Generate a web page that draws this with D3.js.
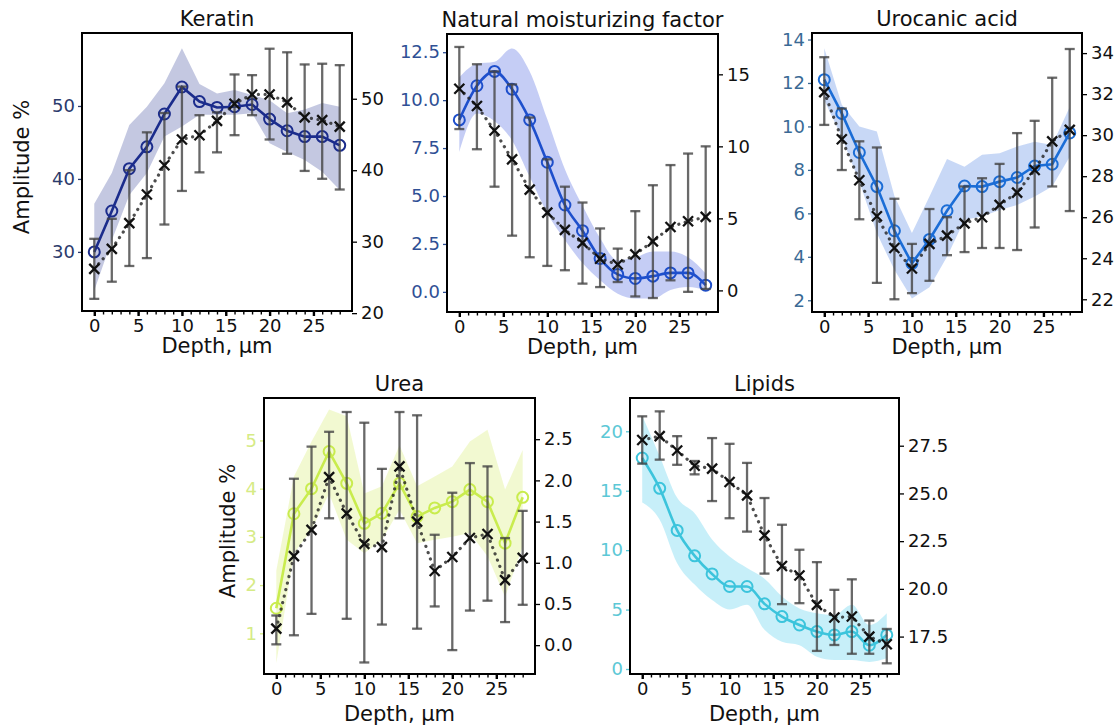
<!DOCTYPE html>
<html lang="en">
<head>
<meta charset="UTF-8">
<title>Depth profiles</title>
<script src="https://d3js.org/d3.v7.min.js"></script>
<style>
  body { margin: 0; background: #fff; }
  svg { font-family: "DejaVu Sans", sans-serif; }
  .title { font-size: 21px; text-anchor: middle; fill: #111; }
  .axis-label { font-size: 21px; text-anchor: middle; fill: #111; }
  .tick text { font-size: 18px; font-family: "DejaVu Sans", sans-serif; }
  .domain { display: none; }
  .frame { fill: none; stroke: #000; stroke-width: 2; }
  .errbar { stroke: #444; stroke-opacity: 0.8; stroke-width: 2.3; }
  .ref-line { fill: none; stroke: #222; stroke-opacity: 0.8; stroke-width: 3.2; stroke-linecap: round; stroke-dasharray: 0.1 6.6; }
  .xmark { stroke: #111; stroke-width: 2.3; }
</style>
</head>
<body>
<div id="chart"></div>
<script>
const depth = [0, 2, 4, 6, 8, 10, 12, 14, 16, 18, 20, 22, 24, 26, 28];

// Keratin
const keratinMean = [30.0, 35.6, 41.4, 44.4, 48.9, 52.6, 50.6, 49.8, 49.9, 50.2, 48.2, 46.6, 45.8, 45.8, 44.6];
const keratinHigh = [36.6, 40.8, 47.4, 49.9, 53.1, 57.9, 53.0, 51.7, 52.2, 51.5, 50.8, 49.0, 49.5, 50.4, 49.9];
const keratinLow  = [24.7, 31.6, 37.8, 40.8, 45.8, 47.2, 48.8, 48.8, 48.8, 49.0, 44.9, 43.7, 42.6, 41.0, 38.5];
const keratinRef     = [26.2, 29.0, 32.6, 36.6, 40.7, 44.3, 44.9, 46.9, 49.3, 50.6, 50.6, 49.5, 47.4, 47.0, 46.1];
const keratinRefHigh = [30.4, 33.2, 40.0, 45.3, 48.0, 51.7, 47.7, 48.1, 53.4, 53.3, 57.0, 56.5, 54.8, 54.9, 54.7];
const keratinRefLow  = [22.0, 24.4, 26.6, 27.7, 32.4, 37.1, 39.7, 42.5, 44.9, 47.7, 44.3, 42.3, 39.9, 38.8, 37.3];

// Natural moisturizing factor
const nmfMean = [8.97, 10.75, 11.5, 10.57, 8.97, 6.76, 4.53, 3.19, 1.74, 0.91, 0.70, 0.82, 0.99, 0.99, 0.35];
const nmfHigh = [11.2, 11.9, 12.0, 12.7, 11.5, 9.0, 6.4, 4.5, 2.8, 1.65, 1.8, 2.1, 2.1, 1.8, 0.96];
const nmfLow  = [7.3, 9.3, 8.9, 7.9, 6.0, 4.1, 2.7, 1.5, 0.6, -0.1, -0.35, -0.35, 0.1, 0.26, 0.09];
const nmfRef     = [14.0, 12.8, 11.1, 9.1, 7.0, 5.4, 4.2, 3.3, 2.2, 1.8, 2.5, 3.4, 4.4, 4.8, 5.1];
const nmfRefHigh = [16.9, 15.7, 15.2, 14.3, 12.0, 9.1, 7.2, 6.1, 4.3, 2.9, 5.5, 7.3, 8.7, 9.5, 10.0];
const nmfRefLow  = [11.2, 9.8, 7.2, 3.8, 2.3, 1.7, 1.4, 0.47, 0.23, 0.58, -0.42, -0.53, 0.7, -0.1, 0.1];

// Urocanic acid
const urocanicMean = [12.15, 10.6, 8.8, 7.23, 5.2, 3.7, 4.8, 6.12, 7.26, 7.23, 7.46, 7.65, 8.18, 8.26, 9.7];
const urocanicHigh = [13.6, 11.0, 10.0, 9.77, 6.8, 5.1, 6.77, 8.5, 8.15, 8.7, 8.77, 9.08, 9.3, 9.15, 10.9];
const urocanicLow  = [11.2, 9.5, 7.46, 5.08, 3.4, 2.08, 2.6, 4.0, 5.7, 5.85, 6.15, 6.38, 6.77, 7.23, 8.6];
const urocanicRef     = [32.1, 29.8, 27.8, 26.05, 24.5, 23.5, 24.7, 25.1, 25.7, 26.0, 26.6, 27.2, 28.3, 29.7, 30.26];
const urocanicRefHigh = [33.8, 31.3, 29.7, 29.4, 26.9, 24.7, 26.4, 26.0, 27.5, 27.9, 28.6, 30.1, 30.7, 32.8, 34.2];
const urocanicRefLow  = [30.5, 28.3, 25.9, 22.8, 22.0, 22.3, 22.9, 24.15, 24.3, 24.5, 24.5, 24.4, 25.5, 27.5, 26.3];

// Urea
const ureaMean = [1.52, 3.48, 4.0, 4.77, 4.11, 3.28, 3.49, 4.11, 3.42, 3.6, 3.73, 3.98, 3.73, 2.87, 3.82];
const ureaHigh = [2.3, 4.25, 4.98, 5.64, 5.5, 3.9, 4.05, 4.9, 4.05, 4.25, 4.46, 4.98, 5.22, 3.98, 4.8];
const ureaLow  = [0.38, 2.66, 3.15, 3.9, 2.94, 2.66, 2.94, 3.56, 2.87, 2.94, 3.0, 3.08, 2.6, 1.76, 2.8];
const ureaRef     = [0.2, 1.08, 1.4, 2.04, 1.6, 1.23, 1.19, 2.17, 1.5, 0.9, 1.07, 1.3, 1.35, 0.79, 1.06];
const ureaRefHigh = [0.36, 2.02, 2.41, 2.59, 2.83, 2.7, 2.14, 2.83, 2.79, 1.34, 1.85, 2.21, 2.17, 1.3, 1.63];
const ureaRefLow  = [0.01, 0.12, 0.38, 1.54, 0.32, -0.21, 0.25, 1.54, 0.2, 0.47, -0.06, 0.42, 0.54, 0.28, 0.49];

// Lipids
const lipidsMean = [17.75, 15.2, 11.66, 9.52, 8.0, 6.94, 6.94, 5.48, 4.41, 3.7, 3.15, 2.87, 3.15, 2.0, 2.87];
const lipidsHigh = [21.3, 17.9, 14.4, 13.1, 10.9, 9.47, 8.5, 7.6, 6.1, 5.1, 4.7, 4.55, 5.4, 3.7, 4.7];
const lipidsLow  = [14.0, 12.56, 8.9, 7.1, 5.8, 5.0, 5.4, 3.3, 2.3, 2.0, 1.04, 0.76, 0.76, 0.6, 0.9];
const lipidsRef     = [27.8, 28.0, 27.25, 26.45, 26.3, 25.6, 24.9, 22.8, 21.2, 20.7, 19.16, 18.5, 18.55, 17.5, 17.1];
const lipidsRefHigh = [29.04, 29.3, 28.0, 26.7, 27.9, 27.6, 26.6, 24.76, 23.36, 22.05, 21.4, 19.95, 20.5, 18.34, 17.9];
const lipidsRefLow  = [26.56, 26.77, 26.5, 26.0, 24.6, 23.7, 23.0, 20.8, 19.2, 19.25, 16.75, 17.06, 16.6, 16.6, 16.1];

// tick labels
const depthTicks = [0, 5, 10, 15, 20, 25];
const keratinLeftTicks = [30, 40, 50];
const keratinRightTicks = [20, 30, 40, 50];
const nmfLeftTicks = [0, 2.5, 5, 7.5, 10, 12.5];
const nmfRightTicks = [0, 5, 10, 15];
const urocanicLeftTicks = [2, 4, 6, 8, 10, 12, 14];
const urocanicRightTicks = [22, 24, 26, 28, 30, 32, 34];
const ureaLeftTicks = [1, 2, 3, 4, 5];
const ureaRightTicks = [0, 0.5, 1, 1.5, 2, 2.5];
const lipidsLeftTicks = [0, 5, 10, 15, 20];
const lipidsRightTicks = [17.5, 20, 22.5, 25, 27.5];

const panels = [
  { title: "Keratin", mean: keratinMean, low: keratinLow, high: keratinHigh,
    ref: keratinRef, refLow: keratinRefLow, refHigh: keratinRefHigh,
    left: [21.9, 60], right: [20.3, 59.2], leftTicks: keratinLeftTicks, rightTicks: keratinRightTicks,
    leftFmt: "d", rightFmt: "d",
    line: "#1b2c8c", band: "#3b4a9c", bandOpacity: 0.3, tickColor: "#2b3a6c",
    curve: d3.curveLinear, box: [82, 33, 270, 278], xlabelDy: 42, ylabelDx: 60 },
  { title: "Natural moisturizing factor", mean: nmfMean, low: nmfLow, high: nmfHigh,
    ref: nmfRef, refLow: nmfRefLow, refHigh: nmfRefHigh,
    left: [-1.05, 13.45], right: [-1.5, 17.8], leftTicks: nmfLeftTicks, rightTicks: nmfRightTicks,
    leftFmt: ".1f", rightFmt: "d",
    line: "#1e4fcc", band: "#4a64e0", bandOpacity: 0.32, tickColor: "#2f5095",
    curve: d3.curveMonotoneX, box: [447, 34, 271, 278], xlabelDy: 42, ylabelDx: null },
  { title: "Urocanic acid", mean: urocanicMean, low: urocanicLow, high: urocanicHigh,
    ref: urocanicRef, refLow: urocanicRefLow, refHigh: urocanicRefHigh,
    left: [1.46, 14.3], right: [21.38, 34.98], leftTicks: urocanicLeftTicks, rightTicks: urocanicRightTicks,
    leftFmt: "d", rightFmt: "d",
    line: "#1b6dd6", band: "#4a7fe0", bandOpacity: 0.3, tickColor: "#3a6a95",
    curve: d3.curveLinear, box: [812, 33, 270, 279], xlabelDy: 42, ylabelDx: null },
  { title: "Urea", mean: ureaMean, low: ureaLow, high: ureaHigh,
    ref: ureaRef, refLow: ureaRefLow, refHigh: ureaRefHigh,
    left: [0.156, 5.88], right: [-0.35, 3.0], leftTicks: ureaLeftTicks, rightTicks: ureaRightTicks,
    leftFmt: "d", rightFmt: ".1f",
    line: "#c9ec4e", band: "#d9ee7a", bandOpacity: 0.35, tickColor: "#d6eb86",
    curve: d3.curveLinear, box: [264, 398, 271, 276], xlabelDy: 47, ylabelDx: 36 },
  { title: "Lipids", mean: lipidsMean, low: lipidsLow, high: lipidsHigh,
    ref: lipidsRef, refLow: lipidsRefLow, refHigh: lipidsRefHigh,
    left: [-0.42, 22.8], right: [15.54, 30.0], leftTicks: lipidsLeftTicks, rightTicks: lipidsRightTicks,
    leftFmt: "d", rightFmt: ".1f",
    line: "#3cc4dc", band: "#5fd0ee", bandOpacity: 0.35, tickColor: "#5cc8d6",
    curve: d3.curveMonotoneX, box: [630, 398, 269, 276], xlabelDy: 47, ylabelDx: null }
];

const width = 1117, height = 728;

const svg = d3.select("#chart").append("svg")
  .attr("width", width)
  .attr("height", height);

panels.forEach((p, i) => {
  const [bx, by, bw, bh] = p.box;
  const x = d3.scaleLinear().domain([-1.4, 29.4]).range([bx, bx + bw]);
  const yL = d3.scaleLinear().domain(p.left).range([by + bh, by]);
  const yR = d3.scaleLinear().domain(p.right).range([by + bh, by]);

  const g = svg.append("g");

  g.append("clipPath").attr("id", "clip" + i)
    .append("rect").attr("x", bx).attr("y", by).attr("width", bw).attr("height", bh);

  const plot = g.append("g").attr("clip-path", `url(#clip${i})`);

  // shaded band + coloured mean line (left axis)
  const idx = depth.map((d, k) => k);
  plot.append("path")
    .datum(idx)
    .attr("fill", p.band)
    .attr("fill-opacity", p.bandOpacity)
    .attr("d", d3.area().curve(p.curve)
      .x(k => x(depth[k]))
      .y0(k => yL(p.low[k]))
      .y1(k => yL(p.high[k])));

  plot.append("path")
    .datum(idx)
    .attr("fill", "none")
    .attr("stroke", p.line)
    .attr("stroke-width", 2.6)
    .attr("d", d3.line().curve(p.curve)
      .x(k => x(depth[k]))
      .y(k => yL(p.mean[k])));

  plot.selectAll(".mean-dot")
    .data(idx)
    .join("circle")
    .attr("cx", k => x(depth[k]))
    .attr("cy", k => yL(p.mean[k]))
    .attr("r", 5.5)
    .attr("fill", "none")
    .attr("stroke", p.line)
    .attr("stroke-width", 2);

  // reference series (right axis): dotted line, error bars, x markers
  plot.append("path")
    .datum(idx)
    .attr("class", "ref-line")
    .attr("d", d3.line()
      .x(k => x(depth[k]))
      .y(k => yR(p.ref[k])));

  const eb = plot.selectAll(".eb").data(idx).join("g").attr("class", "errbar");
  eb.append("line")
    .attr("x1", k => x(depth[k])).attr("x2", k => x(depth[k]))
    .attr("y1", k => yR(p.refLow[k])).attr("y2", k => yR(p.refHigh[k]));
  eb.append("line")
    .attr("x1", k => x(depth[k]) - 5).attr("x2", k => x(depth[k]) + 5)
    .attr("y1", k => yR(p.refLow[k])).attr("y2", k => yR(p.refLow[k]));
  eb.append("line")
    .attr("x1", k => x(depth[k]) - 5).attr("x2", k => x(depth[k]) + 5)
    .attr("y1", k => yR(p.refHigh[k])).attr("y2", k => yR(p.refHigh[k]));

  const xm = plot.selectAll(".xm").data(idx).join("g").attr("class", "xmark")
    .attr("transform", k => `translate(${x(depth[k])},${yR(p.ref[k])})`);
  xm.append("line").attr("x1", -5).attr("y1", -5).attr("x2", 5).attr("y2", 5);
  xm.append("line").attr("x1", -5).attr("y1", 5).attr("x2", 5).attr("y2", -5);

  // axes
  const minor = g.append("g")
    .attr("transform", `translate(0,${by + bh})`)
    .call(d3.axisBottom(x).tickValues(d3.range(0, 29)).tickSize(3.5).tickFormat(""));
  minor.selectAll(".tick line").attr("stroke", "#000").attr("stroke-width", 1.4);

  const xAxis = g.append("g")
    .attr("transform", `translate(0,${by + bh})`)
    .call(d3.axisBottom(x).tickValues(depthTicks).tickSize(5).tickPadding(3));
  xAxis.selectAll(".tick line").attr("stroke", "#000").attr("stroke-width", 2.4);
  xAxis.selectAll(".tick text").attr("fill", "#111");

  const leftAxis = g.append("g")
    .attr("transform", `translate(${bx},0)`)
    .call(d3.axisLeft(yL).tickValues(p.leftTicks).tickSize(4).tickPadding(3).tickFormat(d3.format(p.leftFmt)));
  leftAxis.selectAll(".tick line").attr("stroke", p.tickColor).attr("stroke-width", 1.3);
  leftAxis.selectAll(".tick text").attr("fill", p.tickColor);

  const rightAxis = g.append("g")
    .attr("transform", `translate(${bx + bw},0)`)
    .call(d3.axisRight(yR).tickValues(p.rightTicks).tickSize(5).tickPadding(4).tickFormat(d3.format(p.rightFmt)));
  rightAxis.selectAll(".tick line").attr("stroke", "#000").attr("stroke-width", 1.3);
  rightAxis.selectAll(".tick text").attr("fill", "#111");

  g.append("rect")
    .attr("class", "frame")
    .attr("x", bx).attr("y", by).attr("width", bw).attr("height", bh);

  g.append("text")
    .attr("class", "title")
    .attr("x", bx + bw / 2)
    .attr("y", by - 7)
    .text(p.title);

  g.append("text")
    .attr("class", "axis-label")
    .attr("x", bx + bw / 2)
    .attr("y", by + bh + p.xlabelDy)
    .text("Depth, μm");

  if (p.ylabelDx !== null) {
    g.append("text")
      .attr("class", "axis-label")
      .attr("transform", `translate(${bx - p.ylabelDx + 7},${by + bh / 2 - 5}) rotate(-90)`)
      .text("Amplitude %");
  }
});
</script>
</body>
</html>
